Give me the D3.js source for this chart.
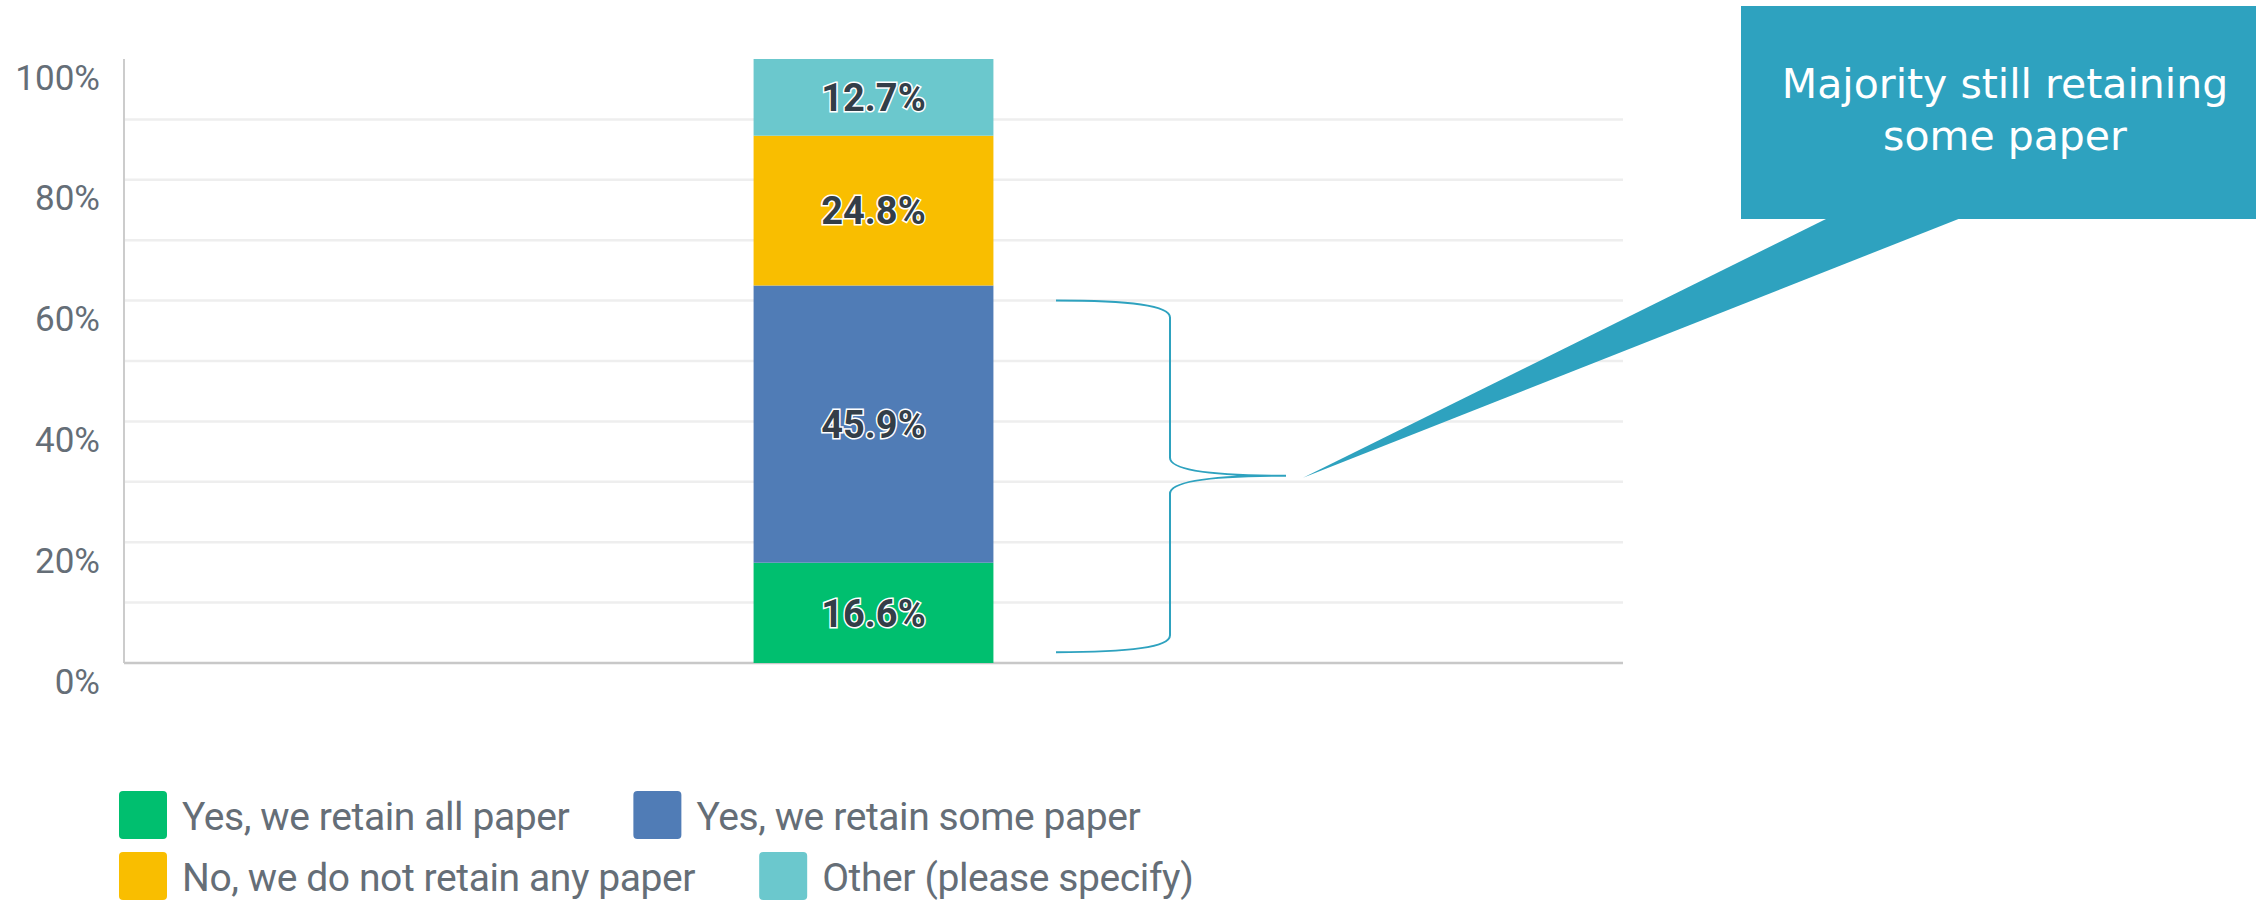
<!DOCTYPE html>
<html>
<head>
<meta charset="utf-8">
<script src="https://cdn.jsdelivr.net/npm/d3@7"></script>
<style>
  body { margin: 0; background: #fff; }
  svg { display: block; }
</style>
</head>
<body>
<div id="chart"></div>
<script>
// data
const categories = ['Yes, we retain all paper', 'Yes, we retain some paper', 'No, we do not retain any paper', 'Other (please specify)']
const values = [16.6, 45.9, 24.8, 12.7]
const colours = ['#00bf6f', '#507cb6', '#f9be00', '#6bc8cd']
const tickValues = [0, 20, 40, 60, 80, 100]
const gridValues = [10, 20, 30, 40, 50, 60, 70, 80, 90]
const calloutLines = ['Majority still retaining', 'some paper']
// brace covers the two "retain" answers (60% down to ~2%)
const braceRange = [60, 31, 1.8]

const width = 2256
const height = 900
const margin = { left: 124, right: 633, top: 59, bottom: 237 }

const svg = d3.select('#chart')
  .append('svg')
  .attr('width', width)
  .attr('height', height)

const x = d3.scaleBand()
  .domain(['all'])
  .range([margin.left, width - margin.right])
  .paddingInner(0.84)
  .paddingOuter(0.42)

const y = d3.scaleLinear()
  .domain([0, 100])
  .range([height - margin.bottom, margin.top])

// grid
svg.append('g')
  .selectAll('line')
  .data(gridValues)
  .join('line')
  .attr('x1', margin.left)
  .attr('x2', width - margin.right)
  .attr('y1', d => y(d))
  .attr('y2', d => y(d))
  .attr('stroke', '#eeeeee')
  .attr('stroke-width', 2.5)

// y axis labels
const yAxis = svg.append('g')
  .attr('transform', `translate(${margin.left},0)`)
  .call(d3.axisLeft(y).tickValues(tickValues).tickSize(0).tickPadding(24).tickFormat(d => d + '%'))
yAxis.select('.domain').remove()
yAxis.selectAll('text')
  .attr('dy', 30)
  .attr('fill', '#656e77')
  .style('font-family', 'Roboto, sans-serif')
  .style('font-size', '35px')

// axis lines
svg.append('line')
  .attr('x1', margin.left).attr('x2', margin.left)
  .attr('y1', y(100)).attr('y2', y(0))
  .attr('stroke', '#cccccc').attr('stroke-width', 2)
svg.append('line')
  .attr('x1', margin.left).attr('x2', width - margin.right)
  .attr('y1', y(0)).attr('y2', y(0))
  .attr('stroke', '#c8c8c8').attr('stroke-width', 2.5)

// stacked bar
const stacked = []
let acc = 0
values.forEach((v, i) => {
  stacked.push({ name: categories[i], value: v, y0: acc, y1: acc + v, colour: colours[i] })
  acc += v
})

const bar = svg.append('g')
bar.selectAll('rect')
  .data(stacked)
  .join('rect')
  .attr('x', x('all'))
  .attr('width', x.bandwidth())
  .attr('y', d => y(d.y1))
  .attr('height', d => y(d.y0) - y(d.y1))
  .attr('fill', d => d.colour)

bar.selectAll('text')
  .data(stacked)
  .join('text')
  .attr('x', x('all') + x.bandwidth() / 2)
  .attr('y', d => (y(d.y0) + y(d.y1)) / 2)
  .attr('dy', '0.36em')
  .attr('text-anchor', 'middle')
  .attr('fill', '#333e48')
  .attr('stroke', '#ffffff')
  .attr('stroke-width', 3)
  .attr('paint-order', 'stroke')
  .style('font-family', 'Roboto, sans-serif')
  .style('font-weight', 'bold')
  .style('font-size', '38px')
  .text(d => d.value.toFixed(1) + '%')

// brace
const bx0 = 1056, bxv = 1170, bxm = 1286
const [bTop, bMid, bBot] = braceRange.map(v => y(v))
const brace = d3.path()
brace.moveTo(bx0, bTop)
brace.bezierCurveTo(1130, bTop, bxv, bTop + 5, bxv, bTop + 17)
brace.lineTo(bxv, bMid - 18)
brace.bezierCurveTo(bxv, bMid - 6, 1210, bMid, bxm, bMid)
brace.moveTo(bxm, bMid)
brace.bezierCurveTo(1210, bMid, bxv, bMid + 6, bxv, bMid + 18)
brace.lineTo(bxv, bBot - 17)
brace.bezierCurveTo(bxv, bBot - 5, 1130, bBot, bx0, bBot)
svg.append('path')
  .attr('d', brace.toString())
  .attr('fill', 'none')
  .attr('stroke', '#2ea2bf')
  .attr('stroke-width', 2)

// callout
const callout = svg.append('g')
callout.append('rect')
  .attr('x', 1741).attr('y', 6)
  .attr('width', width - 1741).attr('height', 213)
  .attr('fill', '#2ea2bf')
callout.append('path')
  .attr('d', `M1828,218 L1961,218 L1303,${bMid + 2} Z`)
  .attr('fill', '#2ea2bf')
callout.selectAll('text')
  .data(calloutLines)
  .join('text')
  .attr('x', 2005)
  .attr('y', (d, i) => 98 + i * 52)
  .attr('text-anchor', 'middle')
  .attr('fill', '#ffffff')
  .style('font-family', '"DejaVu Sans", sans-serif')
  .style('font-size', '41px')
  .text(d => d)

// legend
const legend = svg.append('g')
  .style('font-family', 'Roboto, sans-serif')
  .style('font-size', '39px')
  .style('letter-spacing', '-0.4px')
const rows = [[0, 1], [2, 3]]
rows.forEach((row, r) => {
  let lx = 119
  row.forEach(i => {
    const item = legend.append('g').attr('transform', `translate(${lx},${791 + r * 61})`)
    item.append('rect')
      .attr('width', 48).attr('height', 48)
      .attr('rx', 4)
      .attr('fill', colours[i])
    const t = item.append('text')
      .attr('x', 63)
      .attr('y', 39)
      .attr('fill', '#656e77')
      .text(categories[i])
    lx += 63 + t.node().getComputedTextLength() + 64
  })
})
</script>
</body>
</html>
